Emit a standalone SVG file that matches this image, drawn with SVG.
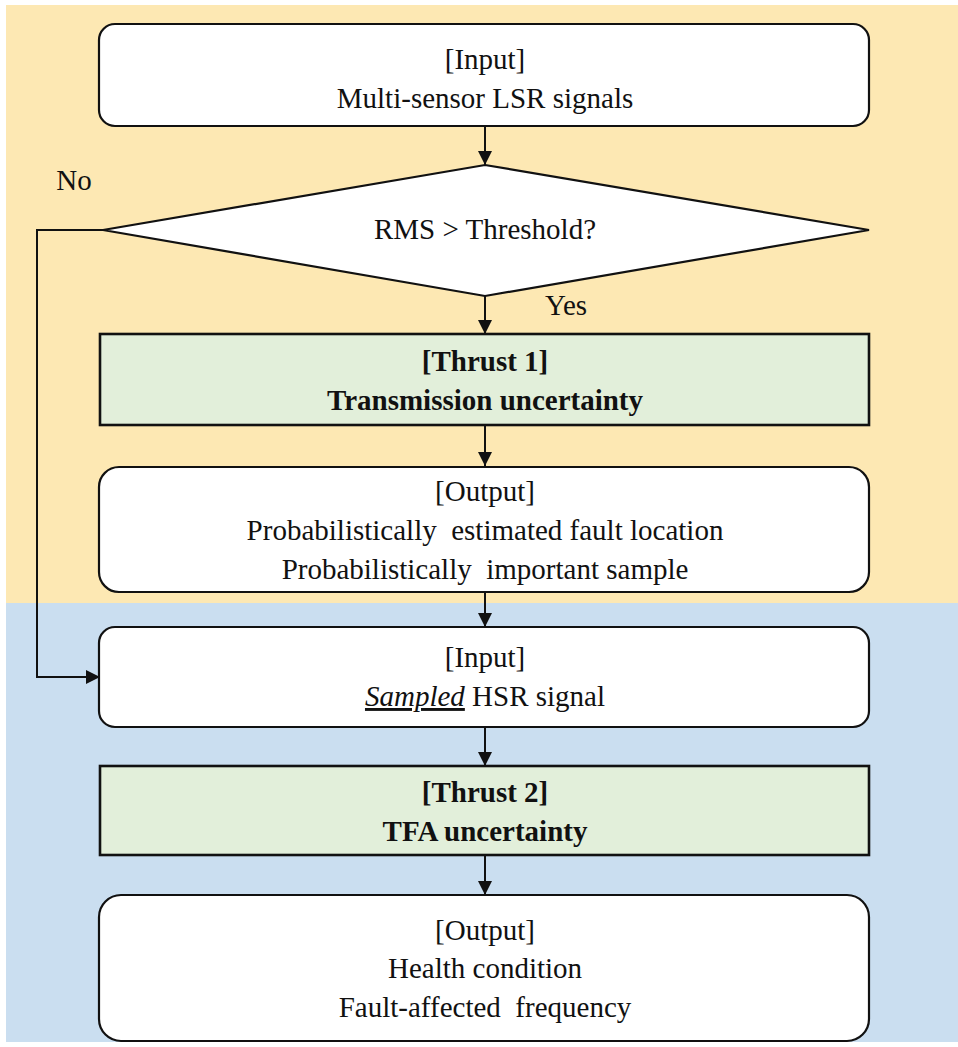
<svg xmlns="http://www.w3.org/2000/svg" width="958" height="1047" viewBox="0 0 958 1047">
<style>
  text { font-family: "Liberation Serif", "Times New Roman", serif; font-size: 29px; fill: #111; text-anchor: middle; white-space: pre; }
  .b { font-weight: bold; }
  .box { fill: #ffffff; stroke: #111; stroke-width: 2.2; }
  .thr { fill: #e2efda; stroke: #111; stroke-width: 2.6; }
  .con { fill: none; stroke: #111; stroke-width: 2; }
</style>
<defs>
  <marker id="ahl" viewBox="0 0 10 10" refX="10" refY="5" markerWidth="14" markerHeight="14" markerUnits="userSpaceOnUse" orient="auto">
    <path d="M0,0 L10,5 L0,10 z" fill="#111"/>
  </marker>
</defs>
<rect x="0" y="0" width="958" height="1047" fill="#ffffff"/>
<rect x="6" y="5" width="952" height="598" fill="#fde8b3"/>
<rect x="6" y="603" width="952" height="439" fill="#cadef0"/>

<g id="connectors">
  <line class="con" x1="485" y1="126" x2="485" y2="165" marker-end="url(#ahl)"/>
  <line class="con" x1="485" y1="296" x2="485" y2="334" marker-end="url(#ahl)"/>
  <line class="con" x1="485" y1="425" x2="485" y2="466" marker-end="url(#ahl)"/>
  <line class="con" x1="485" y1="592" x2="485" y2="627" marker-end="url(#ahl)"/>
  <line class="con" x1="485" y1="727" x2="485" y2="766" marker-end="url(#ahl)"/>
  <line class="con" x1="485" y1="855" x2="485" y2="895" marker-end="url(#ahl)"/>
  <polyline class="con" points="103,230 37,230 37,677 100,677" marker-end="url(#ahl)"/>
  <text x="74" y="190">No</text>
  <text x="566" y="315">Yes</text>
</g>

<g id="input1">
  <rect class="box" x="99" y="24" width="770" height="102" rx="16"/>
  <text x="485" y="69">[Input]</text>
  <text x="485" y="108">Multi-sensor LSR signals</text>
</g>

<g id="decision">
  <polygon class="box" points="485,165 869,230 485,296 103,230"/>
  <text x="485" y="239">RMS &gt; Threshold?</text>
</g>

<g id="thrust1">
  <rect class="thr" x="100" y="334" width="769" height="91"/>
  <text class="b" x="485" y="371">[Thrust 1]</text>
  <text class="b" x="485" y="410">Transmission uncertainty</text>
</g>

<g id="output1">
  <rect class="box" x="99" y="467" width="770" height="125" rx="20"/>
  <text x="485" y="501">[Output]</text>
  <text x="485" y="540">Probabilistically  estimated fault location</text>
  <text x="485" y="579">Probabilistically  important sample</text>
</g>

<g id="input2">
  <rect class="box" x="99" y="627" width="770" height="100" rx="16"/>
  <text x="485" y="667">[Input]</text>
  <text x="485" y="706"><tspan font-style="italic" text-decoration="underline">Sampled</tspan> HSR signal</text>
</g>

<g id="thrust2">
  <rect class="thr" x="100" y="766" width="769" height="89"/>
  <text class="b" x="485" y="802">[Thrust 2]</text>
  <text class="b" x="485" y="841">TFA uncertainty</text>
</g>

<g id="output2">
  <rect class="box" x="99" y="895" width="770" height="146" rx="22"/>
  <text x="485" y="940">[Output]</text>
  <text x="485" y="978">Health condition</text>
  <text x="485" y="1017">Fault-affected  frequency</text>
</g>
</svg>
